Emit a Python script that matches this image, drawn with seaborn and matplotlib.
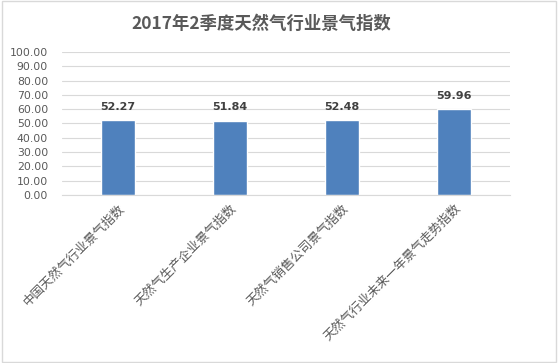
import matplotlib
matplotlib.use("Agg")
import matplotlib.pyplot as plt
import seaborn as sns
import pandas as pd
from matplotlib.patches import Rectangle

categories = ["中国天然气行业景气指数", "天然气生产企业景气指数", "天然气销售公司景气指数", "天然气行业未来一年景气走势指数"]
values = [52.27, 51.84, 52.48, 59.96]
yticks = [0, 10, 20, 30, 40, 50, 60, 70, 80, 90, 100]
title = "2017年2季度天然气行业景气指数"

sns.set_style("white")
plt.rcParams['font.family'] = ['Noto Sans CJK SC', 'DejaVu Sans']

df = pd.DataFrame({"cat": categories, "val": values})
fig = plt.figure(figsize=(5.58, 3.63), dpi=100)
ax = fig.add_axes([0.111, 0.463, 0.803, 0.394])
sns.barplot(data=df, x="cat", y="val", color="#4F81BD", width=0.31, ax=ax, saturation=1)

ax.set_ylim(0, 100)
ax.set_yticks(yticks)
ax.set_yticklabels([f"{v:.2f}" for v in yticks], fontsize=7.8, color="#595959", family=['DejaVu Sans'])
ax.yaxis.grid(True, color="#D9D9D9", linewidth=0.8)
ax.set_axisbelow(True)
for s in ["top", "right", "left"]:
    ax.spines[s].set_visible(False)
ax.spines["bottom"].set_color("#D9D9D9")
ax.tick_params(axis="y", length=0, pad=10)
ax.tick_params(axis="x", length=0, pad=5)
ax.set_xlabel("")
ax.set_ylabel("")
ax.set_xticks(range(len(categories)))
ax.set_xticklabels(categories, rotation=45, ha="right", rotation_mode="anchor",
                   fontsize=9, color="#595959")
for c in ax.containers:
    ax.bar_label(c, labels=[f"{v:.2f}" for v in values], padding=6, fontsize=8,
                 fontweight="bold", color="#404040", family=['DejaVu Sans'])

fig.text(0.468, 0.935, title, ha="center", va="center", fontsize=12.5,
         fontweight="bold", color="#595959")
fig.patches.append(Rectangle((0.004, 0.004), 0.992, 0.992, transform=fig.transFigure,
                             fill=False, edgecolor="#D9D9D9", linewidth=1))
fig.savefig("out.png", dpi=100)
